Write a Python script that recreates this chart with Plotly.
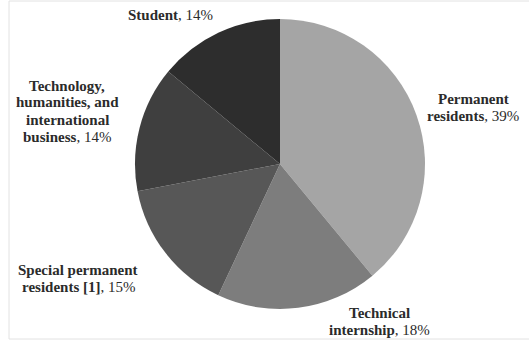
import plotly.graph_objects as go

labels = ["Permanent residents", "Technical internship", "Special permanent residents [1]",
          "Technology, humanities, and international business", "Student"]
label_lines = [["Permanent", "residents"], ["Technical", "internship"],
               ["Special permanent", "residents [1]"],
               ["Technology,", "humanities, and", "international", "business"], ["Student"]]
values = [39, 18, 15, 14, 14]
colors = ["#a5a5a5", "#7d7d7d", "#575757", "#3f3f3f", "#2d2d2d"]

W, H = 529, 341
fig = go.Figure()
fig.add_trace(go.Pie(
    labels=labels, values=values, sort=False, direction="clockwise", rotation=0,
    marker=dict(colors=colors, line=dict(width=0)),
    textinfo="none", hoverinfo="label+percent", showlegend=False,
    domain=dict(x=[135 / W, 425 / W], y=[(H - 309) / H, (H - 19) / H]),
))

# label anchor positions (pixels: center x, center y of block)
pos = [(473, 108), (379, 321), (78, 278), (67, 111), (170, 15)]
LH = 17
font = dict(family="Liberation Serif", size=15, color="#2b2b2b")
for lines, v, (px, py) in zip(label_lines, values, pos):
    n = len(lines)
    for i, l in enumerate(lines):
        txt = "<b>" + l + "</b>" + (f", {v}%" if i == n - 1 else "")
        y = py + (i - (n - 1) / 2) * LH
        fig.add_annotation(x=px / W, y=1 - y / H, xref="paper", yref="paper",
                           text=txt, showarrow=False, align="center",
                           xanchor="center", yanchor="middle", font=font)

fig.add_shape(type="rect", xref="paper", yref="paper",
              x0=9 / W, x1=1.01, y0=1 - 339 / H, y1=1 - 1 / H,
              line=dict(color="#e2e2e2", width=1))

fig.update_layout(width=W, height=H, margin=dict(l=0, r=0, t=0, b=0),
                  paper_bgcolor="white", plot_bgcolor="white")
fig.write_html("out.html")
